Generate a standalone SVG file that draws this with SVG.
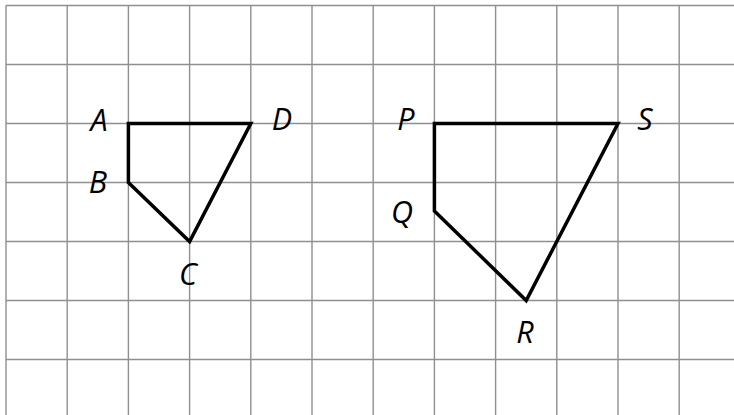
<svg xmlns="http://www.w3.org/2000/svg" width="734" height="415" viewBox="0 0 734 415">
<style>
.grid{stroke:#8f8f8f;stroke-width:1.4;fill:none}
.shape{stroke:#000;stroke-width:3.5;fill:none;stroke-linejoin:miter}
.lbl{font-family:"Open Sans","Noto Sans",sans-serif;font-style:italic;font-size:30.5px;fill:#000;text-anchor:middle}
</style>
<rect width="734" height="415" fill="#fff"/>
<g id="grid" class="grid">
<path d="M6,5.5H734M6,64.5H734M6,123.5H734M6,182.5H734M6,241.5H734M6,300.5H734M6,359.5H734"/>
<path d="M6,5.5V415M67.2,5.5V415M128.4,5.5V415M189.6,5.5V415M250.8,5.5V415M312,5.5V415M373.2,5.5V415M434.4,5.5V415M495.6,5.5V415M556.8,5.5V415M618,5.5V415M679.2,5.5V415"/>
</g>
<g id="shape-ABCD">
<polygon class="shape" points="128.4,123.5 250.8,123.5 189.6,241.5 128.4,182.5"/>
<text class="lbl" x="99" y="131">A</text>
<text class="lbl" x="98" y="192.5">B</text>
<text class="lbl" x="188" y="285">C</text>
<text class="lbl" x="282" y="130">D</text>
</g>
<g id="shape-PQRS">
<polygon class="shape" points="434.4,123.5 618,123.5 526.2,300.5 434.4,211"/>
<text class="lbl" x="406" y="129.5">P</text>
<text class="lbl" x="402" y="222.5">Q</text>
<text class="lbl" x="525" y="343">R</text>
<text class="lbl" x="645" y="129.5">S</text>
</g>
</svg>
